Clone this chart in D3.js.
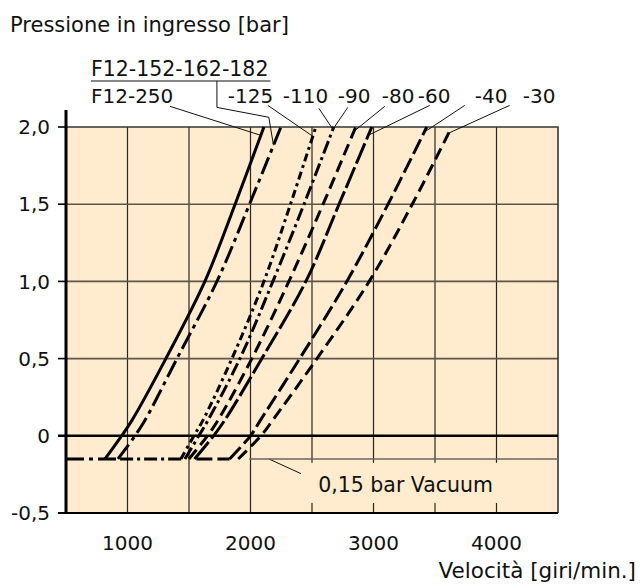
<!DOCTYPE html>
<html>
<head>
<meta charset="utf-8">
<script src="https://cdn.jsdelivr.net/npm/d3@7"></script>
<style>
  body { margin: 0; background: #fff; }
  text { font-family: "DejaVu Sans", sans-serif; fill: #111; }
</style>
</head>
<body>
<svg id="chart" width="640" height="588"></svg>
<script>
// pressione [bar] comune a tutte le curve
var pressures = [-0.15, 0, 0.1, 0.5, 1.0, 1.5, 2.0];

// velocità [giri/min], una per livello di pressione
var curveF12_250 = [817, 952, 1036, 1312, 1629, 1875, 2109];
var curveF12_152 = [922, 1061, 1142, 1402, 1727, 1992, 2247];
var curve125 = [1434, 1540, 1613, 1849, 2109, 2325, 2531];
var curve110_90 = [1467, 1580, 1654, 1914, 2182, 2435, 2677];
var curve80 = [1499, 1650, 1735, 2011, 2312, 2590, 2856];
var curve60 = [1545, 1700, 1790, 2092, 2450, 2720, 2986];
var curve40 = [1830, 2000, 2080, 2400, 2783, 3118, 3433];
var curve30 = [1900, 2085, 2180, 2540, 2965, 3315, 3636];

var curveNames = ["F12-250", "F12-152-162-182", "-125", "-110/-90", "-80", "-60", "-40", "-30"];
var curveDash = [null, "18,5,4,5", "8,4,3,4", "13,4,3,4", "12,6", "22,4", "16,5", "12,6"];
// tratto orizzontale a -0,15 bar: inizio (giri/min), null = nessuno
var tailStart = [null, 500, null, 940, null, null, 1560, null];

var xTicks = [1000, 2000, 3000, 4000];
var xGrid = [1000, 1500, 2000, 2500, 3000, 3500, 4000];
var yTicks = [-0.5, 0, 0.5, 1.0, 1.5, 2.0];
var yTickLabels = ["-0,5", "0", "0,5", "1,0", "1,5", "2,0"];

// etichette: testo, posizione (giri, bar), curva indicata, pressione di arrivo
var labelTexts = ["F12-250", "-125", "-110", "-90", "-80", "-60", "-40", "-30"];
var labelPos = [[703, 2.153], [1816, 2.153], [2263, 2.153], [2710, 2.153], [3067, 2.153], [3360, 2.153], [3823, 2.153], [4213, 2.153]];
var leaderStart = [[1345, 2.134], [2141, 2.140], [2556, 2.121], [2791, 2.127], [3092, 2.134], [3457, 2.140], [3742, 2.140], [4107, 2.140]];
var leaderCurve = [0, 2, 3, 3, 4, 5, 6, 7];
var leaderEndP = [1.946, 1.94, 1.985, 1.985, 1.972, 1.946, 1.966, 1.96];

var topLabel = "F12-152-162-182";
var topLabelPos = [703, 2.328];
var topLeader = [[1727, 2.298], [1727, 2.127], [2149, 2.063]];
var topLeaderEndP = 1.882;

var vacuumLevel = -0.15;
var vacuumText = "0,15 bar Vacuum";

var curves = [curveF12_250, curveF12_152, curve125, curve110_90, curve80, curve60, curve40, curve30];

var svg = d3.select("#chart");

var x = d3.scaleLinear().domain([500, 4500]).range([66, 558]);
var y = d3.scaleLinear().domain([-0.5, 2.0]).range([513, 127]);

// sfondo area grafico
svg.append("rect")
.attr("x", x(500)).attr("y", y(2.0))
.attr("width", x(4500) - x(500)).attr("height", y(-0.5) - y(2.0))
.attr("fill", "#ffebcd");

// griglia verticale
svg.append("g").selectAll("line")
.data(xGrid)
.enter().append("line")
.attr("x1", function(d) { return x(d); })
.attr("x2", function(d) { return x(d); })
.attr("y1", y(2.0)).attr("y2", y(-0.5))
.attr("stroke", "#2a2520")
.attr("stroke-width", 1.2);

// griglia orizzontale
svg.append("g").selectAll("line")
.data([0.5, 1.0, 1.5])
.enter().append("line")
.attr("x1", x(500)).attr("x2", x(4500))
.attr("y1", function(d) { return y(d); })
.attr("y2", function(d) { return y(d); })
.attr("stroke", "#5e554b")
.attr("stroke-width", 1.6);

// bordo superiore e destro
svg.append("path")
.attr("d", "M" + x(500) + "," + y(2.0) + "H" + x(4500) + "V" + y(-0.5))
.attr("fill", "none")
.attr("stroke", "#3a3430")
.attr("stroke-width", 1.6);

// etichetta vuoto con sfondo
svg.append("rect")
.attr("x", x(2020)).attr("y", y(-0.175))
.attr("width", x(4470) - x(2020)).attr("height", y(-0.435) - y(-0.175))
.attr("fill", "#ffebcd");
svg.append("text")
.attr("x", x(2550)).attr("y", y(-0.365))
.attr("font-size", 20.5)
.text(vacuumText);
svg.append("line")
.attr("x1", x(2150)).attr("y1", y(-0.15))
.attr("x2", x(2410)).attr("y2", y(-0.245))
.attr("stroke", "#111").attr("stroke-width", 1);

// linea -0,15 bar
svg.append("line")
.attr("x1", x(1990)).attr("x2", x(4500))
.attr("y1", y(vacuumLevel)).attr("y2", y(vacuumLevel))
.attr("stroke", "#6b6560")
.attr("stroke-width", 1.6);

// curve
var line = d3.line()
.x(function(d) { return x(d[0]); })
.y(function(d) { return y(d[1]); })
.curve(d3.curveCatmullRom.alpha(0.5));

var gCurves = svg.append("g");
curves.forEach(function(c, i) {
	var pts = c.map(function(v, k) { return [v, pressures[k]]; });
	gCurves.append("path")
	.datum(pts)
	.attr("d", line)
	.attr("fill", "none")
	.attr("stroke", "#000")
	.attr("stroke-width", 3)
	.attr("stroke-dasharray", curveDash[i]);

	if (tailStart[i] !== null) {
		gCurves.append("line")
		.attr("x1", x(tailStart[i])).attr("x2", x(c[0]))
		.attr("y1", y(vacuumLevel)).attr("y2", y(vacuumLevel))
		.attr("stroke", "#000")
		.attr("stroke-width", 3)
		.attr("stroke-dasharray", curveDash[i]);
	}
});

// linea dello zero
svg.append("line")
.attr("x1", x(500) - 8).attr("x2", x(4500))
.attr("y1", y(0)).attr("y2", y(0))
.attr("stroke", "#000")
.attr("stroke-width", 2.6);

// linea -0,5
svg.append("line")
.attr("x1", x(500) - 8).attr("x2", x(4500))
.attr("y1", y(-0.5)).attr("y2", y(-0.5))
.attr("stroke", "#000")
.attr("stroke-width", 2);

// asse y
svg.append("line")
.attr("x1", x(500)).attr("x2", x(500))
.attr("y1", y(2.11)).attr("y2", y(-0.5) + 1)
.attr("stroke", "#000")
.attr("stroke-width", 3);

svg.append("g").selectAll("line")
.data([0.5, 1.0, 1.5, 2.0])
.enter().append("line")
.attr("x1", x(500) - 8).attr("x2", x(500))
.attr("y1", function(d) { return y(d); })
.attr("y2", function(d) { return y(d); })
.attr("stroke", "#000")
.attr("stroke-width", 1.6);

svg.append("g").selectAll("text")
.data(yTicks)
.enter().append("text")
.attr("x", x(500) - 16)
.attr("y", function(d) { return y(d); })
.attr("dy", "0.36em")
.attr("text-anchor", "end")
.attr("font-size", 20)
.text(function(d, i) { return yTickLabels[i]; });

// etichette asse x
svg.append("g").selectAll("text")
.data(xTicks)
.enter().append("text")
.attr("x", function(d) { return x(d); })
.attr("y", 550)
.attr("text-anchor", "middle")
.attr("font-size", 20)
.text(function(d) { return d; });

// titoli
svg.append("text")
.attr("x", 10).attr("y", 32)
.attr("font-size", 21)
.text("Pressione in ingresso [bar]");

svg.append("text")
.attr("x", 636).attr("y", 578)
.attr("text-anchor", "end")
.attr("font-size", 21.5)
.text("Velocità [giri/min.]");

// etichette delle curve e linee di richiamo
function speedAt(ci, p) {
	return d3.scaleLinear().domain(pressures).range(curves[ci])(p);
}

var gLab = svg.append("g");
labelTexts.forEach(function(t, i) {
	gLab.append("text")
	.attr("x", x(labelPos[i][0])).attr("y", y(labelPos[i][1]))
	.attr("font-size", 20)
	.text(t);
	var p = leaderEndP[i];
	gLab.append("line")
	.attr("x1", x(leaderStart[i][0])).attr("y1", y(leaderStart[i][1]))
	.attr("x2", x(speedAt(leaderCurve[i], p))).attr("y2", y(p))
	.attr("stroke", "#111").attr("stroke-width", 1);
});

var topText = gLab.append("text")
.attr("x", x(topLabelPos[0])).attr("y", y(topLabelPos[1]))
.attr("font-size", 20.5)
.text(topLabel);
var tw = topText.node().getComputedTextLength();
gLab.append("line")
.attr("x1", x(topLabelPos[0])).attr("x2", x(topLabelPos[0]) + tw + 2)
.attr("y1", y(topLeader[0][1])).attr("y2", y(topLeader[0][1]))
.attr("stroke", "#111").attr("stroke-width", 1.2);
var topPts = topLeader.concat([[speedAt(1, topLeaderEndP), topLeaderEndP]]);
gLab.append("path")
.attr("d", d3.line().x(function(d) { return x(d[0]); }).y(function(d) { return y(d[1]); })(topPts))
.attr("fill", "none")
.attr("stroke", "#111").attr("stroke-width", 1);
</script>
</body>
</html>
